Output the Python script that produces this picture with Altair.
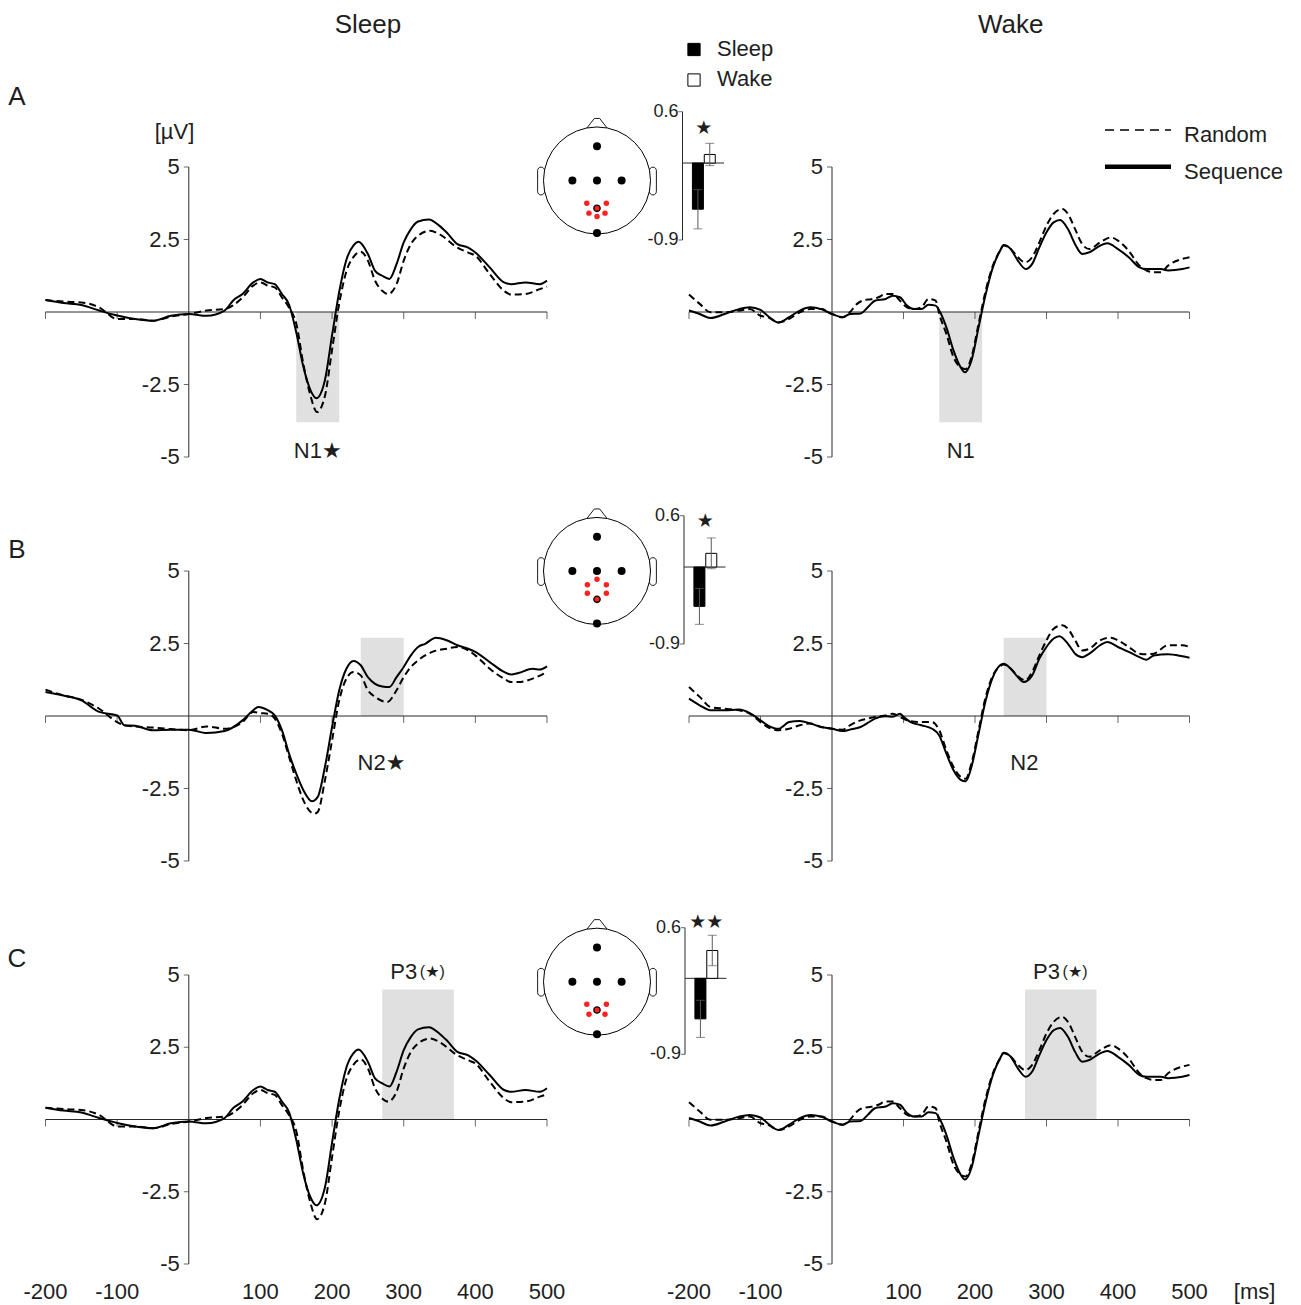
import altair as alt
import pandas as pd

FONT = "Liberation Sans, Arial, DejaVu Sans, sans-serif"
INK = "#1e1e1e"
AXIS = "#2a2a2a"
SHADE = "#e0e0e0"
RED = "#ff2020"

# ---------------- axes / ticks ----------------
X_DOMAIN = [-200, 500]
X_TICKS = [-200, -100, 100, 200, 300, 400, 500]
X_TICK_LABELS = ["-200", "-100", "100", "200", "300", "400", "500"]
Y_DOMAIN = [-5, 5]
Y_TICKS = [5, 2.5, -2.5, -5]
Y_TICK_LABELS = ["5", "2.5", "-2.5", "-5"]

# ---------------- ERP curves (ms, µV) ----------------
# Sleep, rows A and C (same electrode cluster)
SLEEP_AC_SEQ_T = [-200, -175, -150, -125, -100, -75, -50, -25, 0, 25, 50, 62, 75, 90, 100,
                  110, 120, 130, 140, 150, 160, 170, 178, 190, 200, 210, 220, 230, 237,
                  250, 260, 270, 280, 290, 300, 310, 320, 335, 350, 360, 375,
                  390, 400, 420, 440, 450, 470, 490, 500]
SLEEP_AC_SEQ_V = [0.41, 0.31, 0.24, 0.05, -0.12, -0.24, -0.30, -0.13, -0.07, -0.13, 0.05, 0.40, 0.62, 1.02, 1.14,
                  1.02, 0.96, 0.62, 0.25, -0.70, -1.90, -2.70, -2.97, -2.35, -0.80, 0.70, 1.80, 2.30, 2.42,
                  2.00, 1.42, 1.25, 1.14, 1.65, 2.40, 2.86, 3.12, 3.19, 2.97, 2.74, 2.34,
                  2.22, 2.05, 1.54, 1.02, 0.96, 1.02, 0.96, 1.08]
SLEEP_AC_RND_T = [-200, -175, -150, -125, -100, -75, -50, -25, 0, 25, 50, 75, 90, 100,
                  110, 120, 130, 140, 150, 160, 170, 179, 190, 200, 210, 220, 230, 240,
                  250, 260, 270, 278, 290, 300, 310, 320, 337, 350, 375, 390,
                  400, 420, 440, 450, 470, 490, 500]
SLEEP_AC_RND_V = [0.41, 0.36, 0.33, 0.16, -0.24, -0.24, -0.30, -0.16, -0.07, 0.05, 0.10, 0.50, 0.91, 1.02,
                  0.91, 0.85, 0.50, 0.15, -0.40, -1.80, -2.90, -3.45, -2.90, -1.30, 0.30, 1.40, 1.90, 2.08,
                  1.77, 1.08, 0.73, 0.62, 0.96, 1.77, 2.34, 2.63, 2.80, 2.68, 2.22, 2.05,
                  1.94, 1.31, 0.73, 0.60, 0.62, 0.79, 0.87]
# Sleep, row B
SLEEP_B_SEQ_T = [-200, -175, -150, -125, -100, -90, -75, -50, -25, 0, 25, 50, 75, 90, 97,
                 110, 120, 130, 140, 150, 160, 172, 180, 190, 200, 210, 220, 230, 240,
                 250, 260, 270, 280, 290, 300, 310, 320, 330, 345, 360, 375,
                 390, 400, 420, 440, 450, 460, 480, 490, 500]
SLEEP_B_SEQ_V = [0.83, 0.71, 0.54, 0.14, 0.02, -0.32, -0.34, -0.49, -0.47, -0.47, -0.59, -0.52, -0.15, 0.20, 0.31,
                 0.20, 0.02, -0.49, -1.30, -1.99, -2.56, -2.94, -2.79, -1.76, -0.38, 0.89, 1.63, 1.90, 1.75,
                 1.34, 1.11, 1.02, 1.00, 1.34, 1.69, 2.09, 2.38, 2.49, 2.70, 2.61, 2.44,
                 2.32, 2.21, 1.86, 1.52, 1.43, 1.48, 1.63, 1.60, 1.71]
SLEEP_B_RND_T = [-200, -175, -150, -125, -100, -90, -75, -50, -25, 0, 25, 50, 75, 90, 100,
                 110, 120, 130, 140, 150, 160, 175, 180, 190, 200, 210, 220, 230, 240,
                 250, 260, 277, 290, 300, 310, 320, 340, 360, 375, 390, 400,
                 420, 440, 450, 460, 480, 500]
SLEEP_B_RND_V = [0.91, 0.71, 0.56, 0.25, -0.21, -0.32, -0.36, -0.40, -0.45, -0.49, -0.36, -0.44, -0.21, 0.14, 0.10,
                 0.08, -0.09, -0.61, -1.41, -2.22, -2.91, -3.37, -3.31, -2.22, -0.84, 0.54, 1.29, 1.52, 1.40,
                 0.89, 0.66, 0.48, 0.89, 1.34, 1.69, 1.92, 2.21, 2.32, 2.38, 2.26, 2.09,
                 1.63, 1.29, 1.17, 1.17, 1.29, 1.52]
# Wake, rows A and C
WAKE_AC_SEQ_T = [-200, -185, -170, -150, -130, -115, -100, -90, -75, -60,
                 -45, -30, -15, 0, 15, 25, 40, 50, 60, 75,
                 85, 95, 105, 115, 125, 135, 145, 150, 160, 170,
                 180, 186, 195, 205, 215, 225, 235, 240, 250, 260,
                 271, 280, 290, 300, 310, 319, 330, 340, 350, 360,
                 375, 385, 400, 415, 430, 440, 460, 470, 490, 500]
WAKE_AC_SEQ_V = [0.05, -0.07, -0.21, -0.07, 0.10, 0.16, 0.07, -0.13, -0.36, -0.18,
                 0.05, 0.16, 0.10, -0.07, -0.18, -0.07, -0.05, 0.16, 0.39, 0.45,
                 0.56, 0.51, 0.22, 0.10, 0.10, 0.25, 0.22, 0.05, -0.53, -1.33,
                 -1.91, -2.08, -1.68, -0.53, 0.62, 1.54, 2.11, 2.31, 2.17, 1.77,
                 1.48, 1.66, 2.23, 2.75, 3.09, 3.17, 2.86, 2.34, 2.00, 2.06,
                 2.29, 2.37, 2.17, 1.89, 1.54, 1.48, 1.48, 1.43, 1.48, 1.54]
WAKE_AC_RND_T = [-200, -185, -170, -150, -130, -115, -100, -90, -75, -60,
                 -45, -30, -15, 0, 15, 25, 35, 45, 55, 65,
                 75, 85, 95, 105, 115, 125, 135, 145, 150, 160,
                 170, 180, 187, 195, 205, 215, 225, 235, 240, 250,
                 260, 270, 280, 290, 300, 310, 322, 330, 340, 350,
                 360, 375, 390, 400, 415, 430, 440, 450, 460, 470,
                 490, 500]
WAKE_AC_RND_V = [0.60, 0.28, -0.01, -0.01, 0.05, 0.10, -0.13, -0.18, -0.36, -0.24,
                 -0.01, 0.10, 0.10, -0.07, -0.18, -0.01, 0.28, 0.41, 0.44, 0.51,
                 0.62, 0.62, 0.39, 0.16, 0.10, 0.16, 0.45, 0.39, -0.07, -0.76,
                 -1.56, -1.91, -1.97, -1.56, -0.41, 0.74, 1.60, 2.11, 2.29, 2.17,
                 1.89, 1.71, 1.89, 2.40, 2.98, 3.38, 3.55, 3.38, 2.86, 2.34,
                 2.17, 2.40, 2.57, 2.46, 2.11, 1.60, 1.43, 1.37, 1.37, 1.60,
                 1.83, 1.89]
# Wake, row B
WAKE_B_SEQ_T = [-200, -185, -170, -150, -130, -115, -100, -90, -75, -60,
                -45, -30, -15, 0, 15, 25, 40, 50, 60, 75,
                85, 95, 100, 110, 125, 140, 150, 160, 170, 180,
                187, 195, 205, 215, 225, 235, 240, 250, 260, 268,
                280, 290, 300, 310, 318, 330, 340, 350, 360, 375,
                385, 400, 415, 430, 440, 450, 470, 490, 500]
WAKE_B_SEQ_V = [0.60, 0.37, 0.20, 0.20, 0.22, 0.10, -0.15, -0.32, -0.44, -0.21,
                -0.17, -0.26, -0.38, -0.44, -0.52, -0.47, -0.38, -0.24, -0.09, -0.01,
                -0.03, 0.08, -0.03, -0.21, -0.32, -0.44, -0.67, -1.30, -1.87, -2.20,
                -2.25, -1.76, -0.61, 0.54, 1.34, 1.75, 1.80, 1.63, 1.34, 1.17,
                1.40, 1.98, 2.38, 2.67, 2.75, 2.49, 2.15, 2.03, 2.15, 2.44,
                2.55, 2.38, 2.21, 2.03, 1.94, 2.09, 2.13, 2.06, 2.01]
WAKE_B_RND_T = [-200, -185, -170, -150, -130, -115, -100, -90, -75, -60,
                -45, -30, -15, 0, 15, 25, 40, 50, 60, 75,
                85, 95, 105, 125, 140, 150, 160, 170, 180, 187,
                195, 205, 215, 225, 235, 240, 250, 260, 270, 280,
                290, 300, 310, 322, 330, 340, 350, 360, 375, 390,
                400, 415, 430, 440, 450, 470, 490, 500]
WAKE_B_RND_V = [1.00, 0.66, 0.31, 0.25, 0.20, 0.08, -0.21, -0.38, -0.49, -0.44,
                -0.32, -0.26, -0.38, -0.44, -0.47, -0.32, -0.15, -0.09, -0.03, 0.02,
                0.08, -0.03, -0.15, -0.21, -0.21, -0.49, -1.18, -1.76, -2.10, -2.16,
                -1.64, -0.49, 0.66, 1.40, 1.71, 1.78, 1.63, 1.37, 1.23, 1.52,
                2.09, 2.61, 3.01, 3.13, 3.01, 2.61, 2.26, 2.32, 2.61, 2.70,
                2.61, 2.38, 2.15, 2.13, 2.15, 2.44, 2.44, 2.38]

# shaded analysis windows per row (A, B, C)
SHADE_START = [150, 240, 270]
SHADE_END = [210, 300, 370]
SHADE_LOW = [-3.8, 0, 0]
SHADE_HIGH = [0, 2.7, 4.5]

# component labels
COMP_SLEEP = ["N1★", "N2★", "P3"]
COMP_WAKE = ["N1", "N2", "P3"]
COMP_T = [180, 269, 300]
COMP_V = [-4.8, -1.62, 5.09]
P3_SUFFIX = "(★)"
P3_SUFFIX_T = 340

TITLES = ["Sleep", "Wake"]
TITLE_T = 250
TITLE_V = 9.88
ROW_LETTERS = ["A", "B", "C"]
ROW_LETTER_T = -240
ROW_LETTER_V = [7.4, 5.74, 5.57]
UNIT_Y = "[µV]"
UNIT_Y_T, UNIT_Y_V = -20, 6.2
UNIT_X = "[ms]"
UNIT_X_T = 591

LEGEND_LABELS = ["Random", "Sequence"]

# ---------------- inset bar charts ----------------
BAR_CONDITIONS = ["Sleep", "Wake"]
BAR_POS = [1, 2]
BAR_X_DOMAIN = [-0.3, 3.2]
BAR_Y_DOMAIN = [-0.9, 0.6]
BAR_TICKS = [0.6, -0.9]
BAR_TICK_LABELS = ["0.6", "-0.9"]
BAR_MEAN_A = [-0.54, 0.10]
BAR_SEM_A = [0.23, 0.13]
BAR_MEAN_B = [-0.46, 0.16]
BAR_SEM_B = [0.21, 0.18]
BAR_MEAN_C = [-0.48, 0.33]
BAR_SEM_C = [0.22, 0.18]
BAR_STARS = ["★", "★", "★★"]
BAR_STAR_X = 1.5
BAR_STAR_Y = [0.41, 0.54, 0.67]

# ---------------- head maps (head radius = 1) ----------------
HEAD_DOMAIN = [-1, 1]
ELEC_X = [0, -0.46, 0, 0.46, 0]
ELEC_Y = [0.64, 0, 0, 0, -0.98]
RED_A_X = [-0.19, 0.175, -0.15, 0.15, 0]
RED_A_Y = [-0.425, -0.425, -0.61, -0.61, -0.675]
RING_A = [0, -0.52]
RED_B_X = [0, -0.18, 0.175, -0.18, 0.175]
RED_B_Y = [-0.155, -0.255, -0.255, -0.415, -0.415]
RING_B = [0, -0.53]
RED_C_X = [-0.19, 0.175, -0.15, 0.15]
RED_C_Y = [-0.42, -0.42, -0.61, -0.61]
RING_C = [0, -0.53]
EAR_X0 = [-1.11, 0.98]
EAR_X1 = [-0.98, 1.11]
EAR_Y0 = [-0.27, -0.27]
EAR_Y1 = [0.25, 0.25]
NOSE_X = [-0.19, -0.05, 0.05, 0.19]
NOSE_Y = [0.98, 1.16, 1.16, 0.98]

# ---------------- layout (pixel ranges of scales) ----------------
COL_XR = [[37.5, 539], [681, 1181.5]]
ROW_YR = [[449, 159], [853, 563], [1256, 967]]
HEAD_XR = [535.5, 642.5]
HEAD_YR = [[226, 119], [616.5, 509.5], [1027.2, 920.2]]
BAR_XR = [[669.5, 721], [671, 722.5], [672, 723.5]]
BAR_YR = [[232, 103.7], [636, 507.7], [1046.3, 919.7]]
LEG_XR = [1097, 1163]
LEG_YR = [122, 158.7]
BLEG_XR = [686, 709]
BLEG_YR = [41.5, 72]


def sc(domain, rng):
    return alt.Scale(domain=domain, range=rng, nice=False, zero=False)


def ex(f, s):
    return alt.X(f"{f}:Q", scale=s, axis=None)


def ey(f, s):
    return alt.Y(f"{f}:Q", scale=s, axis=None, stack=None)


def text_layer(df, xs, ys, size, **kw):
    return alt.Chart(df).mark_text(font=FONT, fontSize=size, color=INK, baseline="middle", **kw).encode(
        x=ex("x", xs), y=ey("y", ys), text="label:N")


def erp_panel(col, row, seq_t, seq_v, rnd_t, rnd_v):
    xs = sc(X_DOMAIN, COL_XR[col])
    ys = sc(Y_DOMAIN, ROW_YR[row])
    L = []
    shade = pd.DataFrame({"x": [SHADE_START[row]], "x2": [SHADE_END[row]],
                          "y": [SHADE_LOW[row]], "y2": [SHADE_HIGH[row]]})
    L.append(alt.Chart(shade).mark_rect(color=SHADE).encode(
        x=ex("x", xs), x2="x2:Q", y=ey("y", ys), y2="y2:Q"))
    xaxis = pd.DataFrame({"x": [X_TICKS[0]], "x2": [X_TICKS[-1]], "y": [0]})
    L.append(alt.Chart(xaxis).mark_rule(color=AXIS, strokeWidth=1).encode(
        x=ex("x", xs), x2="x2:Q", y=ey("y", ys)))
    yaxis = pd.DataFrame({"x": [0], "y": [min(Y_TICKS)], "y2": [max(Y_TICKS)]})
    L.append(alt.Chart(yaxis).mark_rule(color=AXIS, strokeWidth=1).encode(
        x=ex("x", xs), y=ey("y", ys), y2="y2:Q"))
    xt = pd.DataFrame({"x": X_TICKS, "y": [0] * len(X_TICKS)})
    L.append(alt.Chart(xt).mark_tick(orient="vertical", size=7, thickness=1, yOffset=3.5, color=AXIS).encode(
        x=ex("x", xs), y=ey("y", ys)))
    yt = pd.DataFrame({"x": [0] * len(Y_TICKS), "y": Y_TICKS, "label": Y_TICK_LABELS})
    L.append(alt.Chart(yt).mark_tick(orient="horizontal", size=5, thickness=1, xOffset=-2.5, color=AXIS).encode(
        x=ex("x", xs), y=ey("y", ys)))
    L.append(text_layer(yt, xs, ys, 22, align="right", dx=-9))
    rnd = pd.DataFrame({"t": rnd_t, "v": rnd_v})
    L.append(alt.Chart(rnd).mark_line(color="black", strokeWidth=2, strokeDash=[7, 4], interpolate="monotone").encode(
        x=ex("t", xs), y=ey("v", ys)))
    seq = pd.DataFrame({"t": seq_t, "v": seq_v})
    L.append(alt.Chart(seq).mark_line(color="black", strokeWidth=2, interpolate="monotone").encode(
        x=ex("t", xs), y=ey("v", ys)))
    comp = COMP_SLEEP if col == 0 else COMP_WAKE
    L.append(text_layer(pd.DataFrame({"x": [COMP_T[row]], "y": [COMP_V[row]], "label": [comp[row]]}),
                        xs, ys, 22, align="center"))
    if row == 2:
        L.append(text_layer(pd.DataFrame({"x": [P3_SUFFIX_T], "y": [COMP_V[row]], "label": [P3_SUFFIX]}),
                            xs, ys, 16, align="center"))
        xl = pd.DataFrame({"x": X_TICKS, "y": [min(Y_TICKS)] * len(X_TICKS), "label": X_TICK_LABELS})
        L.append(text_layer(xl, xs, ys, 22, align="center", dy=28))
        if col == 1:
            L.append(text_layer(pd.DataFrame({"x": [UNIT_X_T], "y": [min(Y_TICKS)], "label": [UNIT_X]}),
                                xs, ys, 22, align="center", dy=28))
    if row == 0:
        L.append(text_layer(pd.DataFrame({"x": [TITLE_T], "y": [TITLE_V], "label": [TITLES[col]]}),
                            xs, ys, 26, align="center"))
        if col == 0:
            L.append(text_layer(pd.DataFrame({"x": [UNIT_Y_T], "y": [UNIT_Y_V], "label": [UNIT_Y]}),
                                xs, ys, 22, align="center"))
    if col == 0:
        L.append(text_layer(pd.DataFrame({"x": [ROW_LETTER_T], "y": [ROW_LETTER_V[row]],
                                          "label": [ROW_LETTERS[row]]}), xs, ys, 26, align="center"))
    return alt.layer(*L)


def head_panel(row, red_x, red_y, ring):
    hx = sc(HEAD_DOMAIN, HEAD_XR)
    hy = sc(HEAD_DOMAIN, HEAD_YR[row])
    L = []
    ears = pd.DataFrame({"x": EAR_X0, "x2": EAR_X1, "y": EAR_Y0, "y2": EAR_Y1})
    L.append(alt.Chart(ears).mark_rect(fill="white", stroke="black", strokeWidth=0.9, cornerRadius=5).encode(
        x=ex("x", hx), x2="x2:Q", y=ey("y", hy), y2="y2:Q"))
    nose = pd.DataFrame({"x": NOSE_X, "y": NOSE_Y, "i": list(range(len(NOSE_X)))})
    L.append(alt.Chart(nose).mark_line(color="black", strokeWidth=0.9).encode(
        x=ex("x", hx), y=ey("y", hy), order="i:Q"))
    head = pd.DataFrame({"x": [0], "y": [0]})
    L.append(alt.Chart(head).mark_circle(size=11449, fill="white", stroke="black", strokeWidth=1, opacity=1).encode(
        x=ex("x", hx), y=ey("y", hy)))
    el = pd.DataFrame({"x": ELEC_X, "y": ELEC_Y})
    L.append(alt.Chart(el).mark_circle(size=64, color="black", opacity=1).encode(x=ex("x", hx), y=ey("y", hy)))
    rd = pd.DataFrame({"x": red_x, "y": red_y})
    L.append(alt.Chart(rd).mark_circle(size=30, color=RED, opacity=1).encode(x=ex("x", hx), y=ey("y", hy)))
    rg = pd.DataFrame({"x": [ring[0]], "y": [ring[1]]})
    L.append(alt.Chart(rg).mark_circle(size=40, fill=RED, stroke="black", strokeWidth=1.3, opacity=1).encode(
        x=ex("x", hx), y=ey("y", hy)))
    return alt.layer(*L)


def bar_panel(row, means, sems):
    bx = sc(BAR_X_DOMAIN, BAR_XR[row])
    by = sc(BAR_Y_DOMAIN, BAR_YR[row])
    L = []
    df = pd.DataFrame({"x": BAR_POS, "cond": BAR_CONDITIONS, "m": means, "base": [0, 0],
                       "lo": [m - s for m, s in zip(means, sems)],
                       "hi": [m + s for m, s in zip(means, sems)]})
    axis = pd.DataFrame({"x": [BAR_X_DOMAIN[0]], "y": [BAR_Y_DOMAIN[0]], "y2": [BAR_Y_DOMAIN[1]]})
    L.append(alt.Chart(axis).mark_rule(color=AXIS, strokeWidth=1).encode(x=ex("x", bx), y=ey("y", by), y2="y2:Q"))
    zero = pd.DataFrame({"x": [BAR_X_DOMAIN[0]], "x2": [BAR_X_DOMAIN[1]], "y": [0]})
    L.append(alt.Chart(zero).mark_rule(color=AXIS, strokeWidth=1).encode(x=ex("x", bx), x2="x2:Q", y=ey("y", by)))
    tk = pd.DataFrame({"x": [BAR_X_DOMAIN[0]] * 2, "y": BAR_TICKS, "label": BAR_TICK_LABELS})
    L.append(alt.Chart(tk).mark_tick(orient="horizontal", size=4, thickness=1, xOffset=-2, color=AXIS).encode(
        x=ex("x", bx), y=ey("y", by)))
    L.append(text_layer(tk, bx, by, 18, align="right", dx=-4))
    L.append(alt.Chart(df).mark_bar(size=11, stroke="black", strokeWidth=1).encode(
        x=ex("x", bx), y=ey("m", by), y2="base:Q",
        fill=alt.Fill("cond:N", scale=alt.Scale(domain=BAR_CONDITIONS, range=["black", "white"]), legend=None)))
    L.append(alt.Chart(df).mark_rule(color="#5a5a5a", strokeWidth=1).encode(
        x=ex("x", bx), y=ey("lo", by), y2="hi:Q"))
    caps = pd.DataFrame({"x": BAR_POS * 2, "y": list(df["lo"]) + list(df["hi"])})
    L.append(alt.Chart(caps).mark_tick(orient="horizontal", size=9, thickness=1, color="#5a5a5a").encode(
        x=ex("x", bx), y=ey("y", by)))
    st = pd.DataFrame({"x": [BAR_STAR_X], "y": [BAR_STAR_Y[row]], "label": [BAR_STARS[row]]})
    L.append(text_layer(st, bx, by, 19, align="center"))
    return alt.layer(*L)


def erp_legend():
    lx = sc([0, 1], LEG_XR)
    ly = sc([0, 1], LEG_YR)
    r = pd.DataFrame({"x": [0], "x2": [1], "y": [0]})
    s = pd.DataFrame({"x": [0], "x2": [1], "y": [1]})
    t = pd.DataFrame({"x": [1, 1], "y": [0, 1], "label": LEGEND_LABELS})
    return alt.layer(
        alt.Chart(r).mark_rule(color="black", strokeWidth=1.6, strokeDash=[9, 6]).encode(
            x=ex("x", lx), x2="x2:Q", y=ey("y", ly)),
        alt.Chart(s).mark_rule(color="black", strokeWidth=4.5).encode(
            x=ex("x", lx), x2="x2:Q", y=ey("y", ly)),
        text_layer(t, lx, ly, 22, align="left", dx=13, dy=5),
    )


def bar_legend():
    lx = sc([0, 1], BLEG_XR)
    ly = sc([0, 1], BLEG_YR)
    sq = pd.DataFrame({"x": [0, 0], "y": [0, 1], "cond": BAR_CONDITIONS})
    t = pd.DataFrame({"x": [1, 1], "y": [0, 1], "label": BAR_CONDITIONS})
    return alt.layer(
        alt.Chart(sq).mark_square(size=150, stroke="black", strokeWidth=1, opacity=1).encode(
            x=ex("x", lx), y=ey("y", ly),
            fill=alt.Fill("cond:N", scale=alt.Scale(domain=BAR_CONDITIONS, range=["black", "white"]), legend=None)),
        text_layer(t, lx, ly, 22, align="left", dy=-1),
    )


panels = [
    erp_panel(0, 0, SLEEP_AC_SEQ_T, SLEEP_AC_SEQ_V, SLEEP_AC_RND_T, SLEEP_AC_RND_V),
    erp_panel(1, 0, WAKE_AC_SEQ_T, WAKE_AC_SEQ_V, WAKE_AC_RND_T, WAKE_AC_RND_V),
    erp_panel(0, 1, SLEEP_B_SEQ_T, SLEEP_B_SEQ_V, SLEEP_B_RND_T, SLEEP_B_RND_V),
    erp_panel(1, 1, WAKE_B_SEQ_T, WAKE_B_SEQ_V, WAKE_B_RND_T, WAKE_B_RND_V),
    erp_panel(0, 2, SLEEP_AC_SEQ_T, SLEEP_AC_SEQ_V, SLEEP_AC_RND_T, SLEEP_AC_RND_V),
    erp_panel(1, 2, WAKE_AC_SEQ_T, WAKE_AC_SEQ_V, WAKE_AC_RND_T, WAKE_AC_RND_V),
    head_panel(0, RED_A_X, RED_A_Y, RING_A),
    head_panel(1, RED_B_X, RED_B_Y, RING_B),
    head_panel(2, RED_C_X, RED_C_Y, RING_C),
    bar_panel(0, BAR_MEAN_A, BAR_SEM_A),
    bar_panel(1, BAR_MEAN_B, BAR_SEM_B),
    bar_panel(2, BAR_MEAN_C, BAR_SEM_C),
    erp_legend(),
    bar_legend(),
]

chart = alt.layer(*panels).resolve_scale(
    x="independent", y="independent", fill="independent"
).properties(
    width=1285, height=1297, padding=0, autosize="none", background="white"
).configure_view(strokeWidth=0)

chart.save("out.html", embed_options={"renderer": "svg", "actions": False})
